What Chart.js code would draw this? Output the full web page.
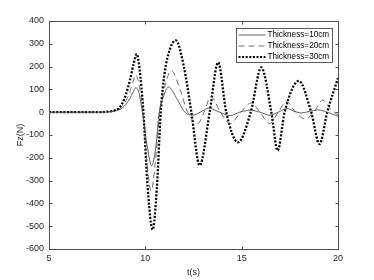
<!DOCTYPE html>
<html>
<head>
<meta charset="utf-8">
<script src="https://cdn.jsdelivr.net/npm/chart.js@4/dist/chart.umd.min.js"></script>
<style>
html, body { margin: 0; padding: 0; background: #fff; }
</style>
</head>
<body>
<canvas id="FzChart" width="374" height="280"></canvas>
<script>
// t(s) and Fz(N), one pair of arrays per thickness
const t10 = [5, 7.5, 8.0, 8.4, 8.6, 8.8, 9.0, 9.2, 9.35, 9.5, 9.65, 9.85, 10.1, 10.33, 10.55, 10.72, 10.95, 11.2, 11.6, 12.05, 12.45, 12.85, 13.3, 13.85, 14.4, 14.9, 15.45, 15.95, 16.45, 16.9, 17.35, 17.7, 18.1, 18.5, 18.95, 19.5, 20];
const f10 = [0, 0, 1, 5, 9, 18, 35, 60, 85, 107, 90, 0, -150, -235, -150, 0, 70, 111, 65, 0, -13, 0, 18, 0, -15, 0, 9, 0, -13, 0, 16, 5, -3, 3, 10, -2, -18];

const t20 = [5, 7.5, 8.0, 8.4, 8.6, 8.8, 9.0, 9.2, 9.35, 9.5, 9.65, 9.88, 10.08, 10.3, 10.52, 10.75, 11.0, 11.35, 11.8, 12.2, 12.72, 13.05, 13.4, 13.9, 14.4, 14.95, 15.5, 15.95, 16.45, 16.9, 17.32, 17.8, 18.3, 18.75, 19.2, 19.6, 20];
const f20 = [0, 0, 1, 6, 12, 26, 52, 90, 130, 163, 130, 0, -220, -345, -220, 0, 110, 182, 100, 0, -50, 0, 68, 0, -50, 0, 40, 0, -50, 0, 47, 0, -30, 0, 53, 15, -13];

const t30 = [5, 7.5, 8.0, 8.4, 8.6, 8.8, 9.0, 9.2, 9.4, 9.55, 9.7, 9.9, 10.12, 10.38, 10.6, 10.8, 11.0, 11.27, 11.58, 12.0, 12.39, 12.82, 13.34, 13.78, 14.2, 14.81, 15.47, 16.02, 16.54, 16.87, 17.23, 17.97, 18.61, 19.04, 19.44, 20];
const f30 = [0, 0, 2, 8, 16, 38, 80, 140, 215, 255, 190, 0, -330, -515, -330, 0, 170, 275, 315, 200, 0, -233, 0, 218, 0, -132, 0, 196, 0, -168, 0, 137, 0, -140, 0, 150];

const seriesLabels = ['Thickness=10cm', 'Thickness=20cm', 'Thickness=30cm'];
const xTicks = [5, 10, 15, 20];
const yTicks = [-600, -500, -400, -300, -200, -100, 0, 100, 200, 300, 400];

const fontFamily = '"Liberation Sans", Arial, Helvetica, sans-serif';
const axisColor = '#262626';

const toPoints = (ts, fs) => ts.map((t, i) => ({ x: t, y: fs[i] }));

// MATLAB style box: frame, inward ticks on all four sides, legend inside the axes
const boxPlugin = {
    id: 'boxPlugin',
    afterDraw(chart) {
        const { ctx, chartArea: a, scales: { x, y } } = chart;
        const L = Math.round(a.left) + 0.5, R = Math.round(a.right) + 0.5;
        const T = Math.round(a.top) + 0.5, B = Math.round(a.bottom) + 0.5;
        const tl = 3;
        ctx.save();
        ctx.strokeStyle = '#4d4d4d';
        ctx.lineWidth = 1;
        ctx.strokeRect(L, T, R - L, B - T);
        ctx.beginPath();
        xTicks.forEach(v => {
            const px = Math.round(x.getPixelForValue(v)) + 0.5;
            ctx.moveTo(px, B); ctx.lineTo(px, B - tl);
            ctx.moveTo(px, T); ctx.lineTo(px, T + tl);
        });
        yTicks.forEach(v => {
            const py = Math.round(y.getPixelForValue(v)) + 0.5;
            ctx.moveTo(L, py); ctx.lineTo(L + tl, py);
            ctx.moveTo(R, py); ctx.lineTo(R - tl, py);
        });
        ctx.stroke();

        // legend
        const bx = R - 102, by = T + 7, bw = 96, bh = 34;
        ctx.fillStyle = '#fff';
        ctx.fillRect(bx, by, bw, bh);
        ctx.strokeStyle = '#333';
        ctx.lineWidth = 0.8;
        ctx.strokeRect(bx, by, bw, bh);
        ctx.font = '8.2px ' + fontFamily;
        ctx.textBaseline = 'middle';
        ctx.textAlign = 'left';
        chart.data.datasets.forEach((ds, i) => {
            const ry = by + 6.5 + i * 11;
            ctx.beginPath();
            ctx.strokeStyle = ds.borderColor;
            ctx.lineWidth = Math.min(ds.borderWidth, 2);
            ctx.setLineDash(ds.borderDash);
            ctx.moveTo(bx + 2, ry);
            ctx.lineTo(bx + 29, ry);
            ctx.stroke();
            ctx.setLineDash([]);
            ctx.fillStyle = '#000';
            ctx.fillText(ds.label, bx + 31, ry);
        });
        ctx.restore();
    }
};

const ctx = document.getElementById('FzChart').getContext('2d');
const fzChart = new Chart(ctx, {
    type: 'line',
    data: {
        datasets: [{
            label: seriesLabels[0],
            data: toPoints(t10, f10),
            borderColor: '#3a3a3a',
            borderDash: [],
            borderWidth: 0.8
        }, {
            label: seriesLabels[1],
            data: toPoints(t20, f20),
            borderColor: '#4a4a4a',
            borderDash: [6, 4],
            borderWidth: 0.8
        }, {
            label: seriesLabels[2],
            data: toPoints(t30, f30),
            borderColor: '#000',
            borderDash: [2, 1.6],
            borderWidth: 2.3
        }]
    },
    options: {
        responsive: false,
        animation: false,
        layout: { padding: { left: 0, right: 36, top: 21, bottom: 0 } },
        elements: {
            point: { radius: 0 },
            line: { cubicInterpolationMode: 'monotone', fill: false, borderCapStyle: 'butt' }
        },
        plugins: { legend: { display: false }, tooltip: { enabled: false } },
        scales: {
            x: {
                type: 'linear',
                min: 5,
                max: 20,
                afterBuildTicks: s => { s.ticks = xTicks.map(v => ({ value: v })); },
                afterFit: s => { s.height = 31; },
                grid: { display: false, drawTicks: false },
                border: { display: false },
                ticks: { padding: 4, maxRotation: 0, color: axisColor, font: { family: fontFamily, size: 9 } },
                title: { display: true, text: 't(s)', color: axisColor, padding: { top: 0, bottom: 2 }, font: { family: fontFamily, size: 9 } }
            },
            y: {
                min: -600,
                max: 400,
                afterBuildTicks: s => { s.ticks = yTicks.map(v => ({ value: v })); },
                afterFit: s => { s.width = 49; },
                grid: { display: false, drawTicks: false },
                border: { display: false },
                ticks: { padding: 5, color: axisColor, font: { family: fontFamily, size: 9 } },
                title: { display: true, text: 'Fz(N)', color: axisColor, padding: { top: 15, bottom: 0 }, font: { family: fontFamily, size: 9 } }
            }
        }
    },
    plugins: [boxPlugin]
});
</script>
</body>
</html>
